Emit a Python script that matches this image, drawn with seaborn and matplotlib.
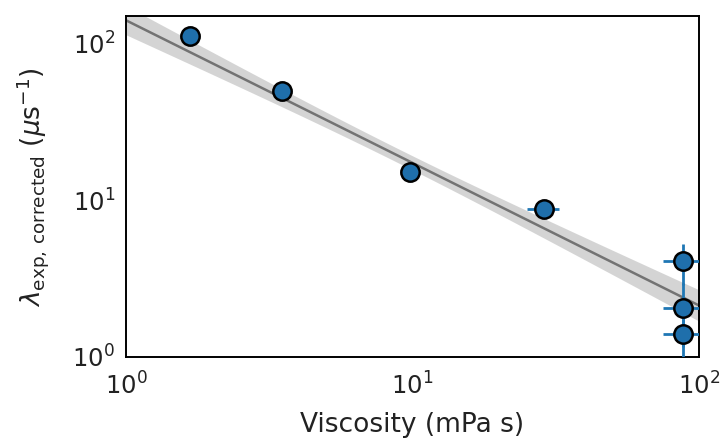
import numpy as np
import pandas as pd
import seaborn as sns
import matplotlib
matplotlib.use("Agg")
import matplotlib.pyplot as plt

viscosity = [1.67, 3.5, 9.8, 28.8, 88.0, 88.0, 88.0]
viscosity_err = [0.0, 0.0, 0.0, 3.6, 13.0, 13.0, 13.0]
rate = [112.0, 50.0, 15.2, 8.8, 4.1, 2.06, 1.40]
rate_err = [0.0, 0.0, 0.0, 0.0, 1.2, 0.9, 0.7]

# power-law fit in log10 space: log y = intercept + slope * log x
fit_slope = -0.91
fit_intercept = 2.15
# confidence band half-width (decades): sqrt(h0^2 + k^2 (log x - x0)^2)
band_h0 = 0.045
band_k = 0.085
band_x0 = 0.95

df = pd.DataFrame({"viscosity": viscosity, "rate": rate})

sns.set_style("white")
plt.rcParams["font.family"] = ["DejaVu Sans"]
plt.rcParams["mathtext.fontset"] = "dejavusans"
plt.rcParams["text.color"] = "#222222"
plt.rcParams["axes.labelcolor"] = "#222222"
plt.rcParams["xtick.color"] = "black"
plt.rcParams["ytick.color"] = "black"
plt.rcParams["xtick.labelcolor"] = "#222222"
plt.rcParams["ytick.labelcolor"] = "#222222"

fig = plt.figure(figsize=(7.24, 4.38), dpi=100)
ax = fig.add_axes([0.174, 0.185, 0.791, 0.778])

# fit line and band
lx = np.linspace(0, 2, 200)
ly = fit_intercept + fit_slope * lx
hw = np.sqrt(band_h0 ** 2 + band_k ** 2 * (lx - band_x0) ** 2)
fit_df = pd.DataFrame({"x": 10 ** lx, "y": 10 ** ly})
ax.fill_between(10 ** lx, 10 ** (ly - hw), 10 ** (ly + hw), color="0.45", alpha=0.3, lw=0, zorder=1)
sns.lineplot(data=fit_df, x="x", y="y", ax=ax, color="0.45", lw=1.8, zorder=2)

# error bars, then markers on top
ax.errorbar(viscosity, rate, xerr=viscosity_err, yerr=rate_err, fmt="none",
            ecolor="#1f77b4", elinewidth=2, capsize=0, zorder=3)
sns.scatterplot(data=df, x="viscosity", y="rate", ax=ax, s=175, color="#1f6fab",
                edgecolor="black", linewidth=1.8, zorder=4)

ax.set_xscale("log")
ax.set_yscale("log")
ax.set_xlim(1, 100)
ax.set_ylim(1, 150)

ax.set_xlabel("Viscosity (mPa s)", fontsize=19, labelpad=9)
ax.set_ylabel(r"$\lambda_{\mathrm{exp,\,corrected}}$ ($\mu$s$^{-1}$)", fontsize=19, labelpad=15)

ax.tick_params(which="both", direction="in", top=False, right=False, labelsize=17.5)
ax.tick_params(which="major", length=6, width=1.2, pad=8)
ax.tick_params(axis="x", which="major", pad=11)
ax.tick_params(which="minor", length=3.5, width=1)
for sp in ax.spines.values():
    sp.set_color("black")
    sp.set_linewidth(1.4)

fig.savefig("out.png", dpi=100)
